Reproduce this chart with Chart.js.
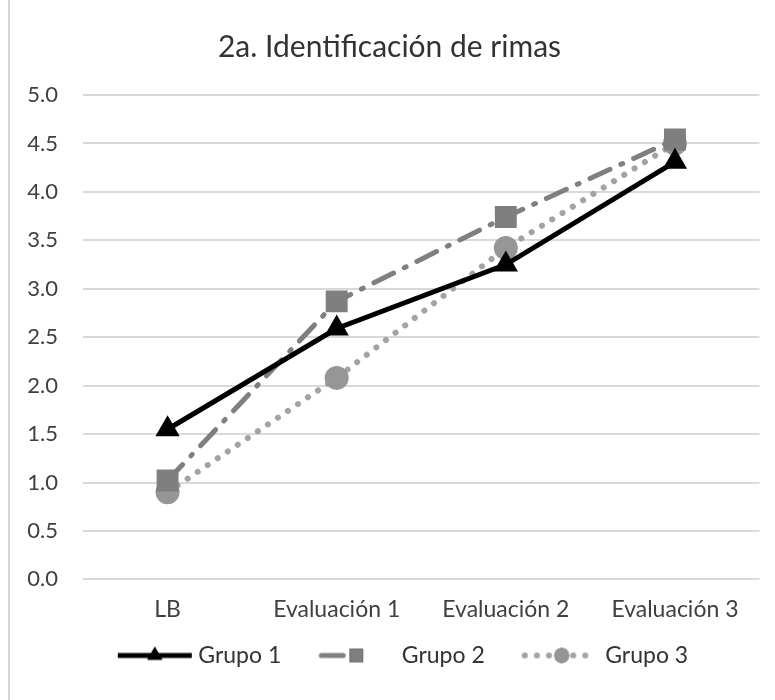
<!DOCTYPE html>
<html>
<head>
<meta charset="utf-8">
<script src="https://cdn.jsdelivr.net/npm/chart.js@4/dist/chart.umd.min.js"></script>
<style>
    body { margin: 0; background: #fff; }
    #marco { position: relative; width: 775px; height: 700px; }
    #borde { position: absolute; left: 8px; top: 0; width: 2px; height: 700px; background: #d4d4d4; }
</style>
</head>
<body>
<div id="marco">
    <div id="borde"></div>
    <canvas id="graficoRimas" width="775" height="700"></canvas>
</div>
<script>
const categorias = ['LB', 'Evaluación 1', 'Evaluación 2', 'Evaluación 3'];
const grupo1 = [1.55, 2.59, 3.25, 4.31];
const grupo2 = [1.02, 2.87, 3.74, 4.54];
const grupo3 = [0.90, 2.08, 3.42, 4.50];
const nombresGrupos = ['Grupo 1', 'Grupo 2', 'Grupo 3'];
const ticksY = [0, 0.5, 1, 1.5, 2, 2.5, 3, 3.5, 4, 4.5, 5];

const fuente = 'Lato, "Open Sans", sans-serif';

// icono de leyenda: trozo de línea con su marcador (la imagen lleva margen a la izquierda)
function iconoLeyenda(ds) {
    const c = document.createElement('canvas');
    c.width = 112;
    c.height = 26;
    const ctx = c.getContext('2d');
    const x0 = 32;
    const largo = ds.largoLeyenda;
    ctx.strokeStyle = ds.borderColor;
    ctx.lineWidth = ds.borderWidth;
    ctx.lineCap = ds.borderCapStyle || 'butt';
    ctx.setLineDash(ds.borderDash || []);
    ctx.beginPath();
    ctx.moveTo(x0 + 3, 13);
    ctx.lineTo(x0 + largo - 3, 13);
    ctx.stroke();
    ctx.setLineDash([]);
    Chart.helpers.drawPoint(ctx, {
        pointStyle: ds.pointStyle,
        radius: ds.pointRadius * 0.62,
        borderWidth: 0,
        rotation: 0
    }, x0 + ds.centroLeyenda, 13);
    ctx.fillStyle = ds.pointBackgroundColor;
    ctx.fill();
    return c;
}

function crearGrafico() {
    const ctx = document.getElementById('graficoRimas').getContext('2d');
    const datasets = [
        {
            label: nombresGrupos[0],
            data: grupo1,
            borderColor: '#000000',
            borderWidth: 5,
            pointStyle: 'triangle',
            pointRadius: 14,
            pointBackgroundColor: '#000000',
            pointBorderWidth: 0,
            largoLeyenda: 80,
            centroLeyenda: 40
        },
        {
            label: nombresGrupos[1],
            data: grupo2,
            borderColor: '#7f7f7f',
            borderWidth: 5,
            borderDash: [22, 12, 2, 12],
            borderCapStyle: 'round',
            pointStyle: 'rect',
            pointRadius: 15.5,
            pointBackgroundColor: '#7f7f7f',
            pointBorderWidth: 0,
            largoLeyenda: 54,
            centroLeyenda: 38
        },
        {
            label: nombresGrupos[2],
            data: grupo3,
            borderColor: '#a3a3a3',
            borderWidth: 6,
            borderDash: [0.1, 12],
            borderCapStyle: 'round',
            pointStyle: 'circle',
            pointRadius: 12,
            pointBackgroundColor: '#969696',
            pointBorderWidth: 0,
            largoLeyenda: 78,
            centroLeyenda: 40
        }
    ];

    new Chart(ctx, {
        type: 'line',
        data: { labels: categorias, datasets: datasets },
        options: {
            responsive: false,
            animation: false,
            layout: { padding: { left: 19, right: 15, top: 29, bottom: 23 } },
            plugins: {
                tooltip: { enabled: false },
                title: {
                    display: true,
                    text: '2a. Identificación de rimas',
                    color: '#333333',
                    font: { family: fuente, size: 30, weight: 'normal' },
                    padding: { top: 0, bottom: 30 }
                },
                legend: {
                    position: 'bottom',
                    labels: {
                        usePointStyle: true,
                        pointStyleWidth: 96,
                        boxHeight: 22,
                        padding: 13,
                        color: '#333333',
                        font: { family: fuente, size: 23 },
                        generateLabels: (chart) => chart.data.datasets.map((ds, i) => ({
                            text: ds.label,
                            pointStyle: iconoLeyenda(ds),
                            fillStyle: ds.borderColor,
                            strokeStyle: ds.borderColor,
                            lineWidth: 0,
                            hidden: false,
                            datasetIndex: i,
                            fontColor: '#333333'
                        }))
                    }
                }
            },
            elements: { line: { tension: 0 } },
            scales: {
                x: {
                    offset: true,
                    grid: { display: false },
                    border: { display: false },
                    ticks: {
                        color: '#404040',
                        padding: 8,
                        maxRotation: 0,
                        font: { family: fuente, size: 23 }
                    }
                },
                y: {
                    min: 0,
                    max: 5,
                    afterBuildTicks: (eje) => { eje.ticks = ticksY.map(v => ({ value: v })); },
                    afterFit: (eje) => { eje.width = 64; },
                    grid: { color: '#d9d9d9', lineWidth: 2, drawTicks: false },
                    border: { display: false },
                    ticks: {
                        color: '#404040',
                        padding: 25,
                        font: { family: fuente, size: 22 },
                        callback: (v) => Number(v).toFixed(1)
                    }
                }
            }
        }
    });
}

window.onload = crearGrafico;
</script>
</body>
</html>
